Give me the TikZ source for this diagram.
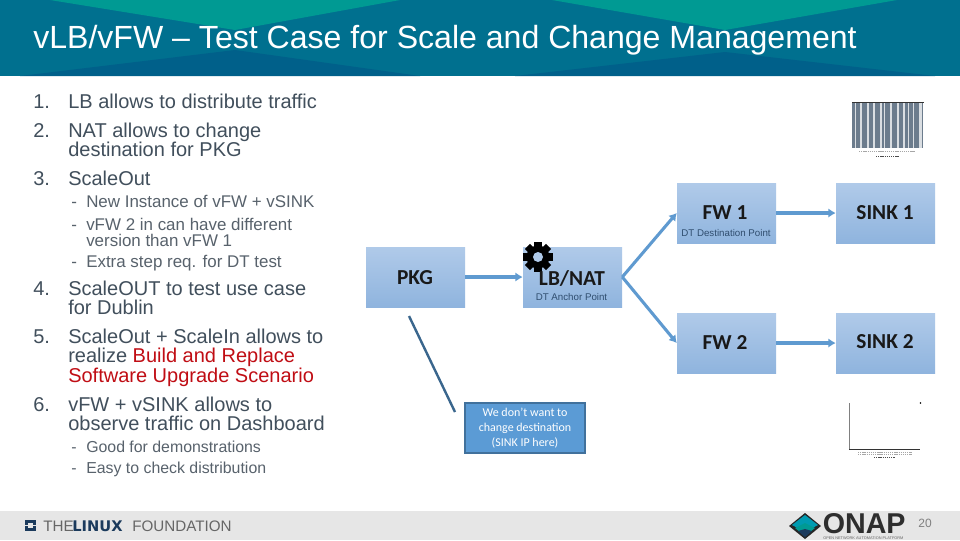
\documentclass[tikz,border=0pt]{standalone}
\usepackage{fontspec}
\setmainfont{Liberation Sans}
\newfontfamily\boxfont{Carlito}
\newfontfamily\logofont{DejaVu Sans}
\usetikzlibrary{arrows.meta}
\definecolor{hdbase}{HTML}{00708F}
\definecolor{hdteal}{HTML}{009A93}
\definecolor{hddark}{HTML}{00608A}
\definecolor{bodytxt}{HTML}{414F5C}
\definecolor{subtxt}{HTML}{58626C}
\definecolor{redtxt}{HTML}{C00D14}
\definecolor{boxtop}{HTML}{B0CAE9}
\definecolor{boxbot}{HTML}{8FB4DE}
\definecolor{arrowc}{HTML}{5F9AD0}
\definecolor{notefill}{HTML}{5B9BD5}
\definecolor{noteedge}{HTML}{41719C}
\definecolor{footg}{HTML}{E6E6E6}
\definecolor{subbox}{HTML}{2F4D6E}
\definecolor{barc}{HTML}{6C7C8D}
\definecolor{navy}{HTML}{1B3A5C}
\tikzset{
  x=0.75pt,y=-0.75pt,
  mainline/.style={anchor=base west,inner sep=0,text=bodytxt,font=\fontsize{15pt}{18pt}\selectfont},
  subline/.style={anchor=base west,inner sep=0,text=subtxt,font=\fontsize{12.7pt}{15pt}\selectfont},
  sublinesmall/.style={anchor=base west,inner sep=0,text=subtxt,font=\fontsize{11.9pt}{15pt}\selectfont},
  flowbox/.style={rectangle,minimum width=74.25pt,minimum height=45pt,inner sep=0,top color=boxtop,bottom color=boxbot,draw=none},
  boxlabel/.style={inner sep=0,text=black!90,font=\boxfont\bfseries\fontsize{16pt}{18pt}\selectfont},
  boxsub/.style={inner sep=0,text=subbox,font=\fontsize{7.3pt}{9pt}\selectfont},
  flow/.style={draw=arrowc,line width=3pt,-{Latex[length=5.5pt,width=7pt]}},
  flowthin/.style={draw=arrowc,line width=2.3pt,-{Latex[length=5.5pt,width=7pt]}},
  tinytxt/.style={gray!70,line width=0.5pt,dash pattern=on 1pt off 0.6pt},
}
\begin{document}
\begin{tikzpicture}
\useasboundingbox (0,0) rectangle (960,540);
\fill[white] (0,0) rectangle (960,540);
% header
\fill[hdbase] (0,0) rectangle (960,76);
\fill[hddark] (20,76) -- (235,50) -- (420,76) -- cycle;
\fill[hddark] (515,76) -- (725,52) -- (935,76) -- cycle;
\fill[hdteal] (50,0) -- (235,30) -- (400,0) -- cycle;
\fill[hdteal] (552,0) -- (725,30) -- (897,0) -- cycle;
\node[anchor=base west,inner sep=0,text=white,font=\fontsize{24.05pt}{28pt}\selectfont] (title) at (33,48) {vLB/vFW – Test Case for Scale and Change Management};
% footer
\fill[footg] (0,511) rectangle (960,540);
% list
\node[mainline] (n1) at (33,108) {1.};
\node[mainline] (t1) at (68,108) {LB allows to distribute traffic};
\node[mainline] (n2) at (33,137) {2.};
\node[mainline] (t2a) at (68,137) {NAT allows to change};
\node[mainline] (t2b) at (68,156) {destination for PKG};
\node[mainline] (n3) at (33,185) {3.};
\node[mainline] (t3) at (68,185) {ScaleOut};
\node[subline] (d1) at (71,207.5) {-};
\node[subline] (s1) at (86,207.5) {New Instance of vFW + vSINK};
\node[subline] (d2) at (71,230) {-};
\node[subline] (s2a) at (86,230) {vFW 2 in can have different};
\node[subline] (s2b) at (86,246) {version than vFW 1};
\node[subline] (d3) at (71,267) {-};
\node[subline] (s3) at (86,267) {Extra step req. for DT test};
\node[mainline] (n4) at (33,295) {4.};
\node[mainline] (t4a) at (68,295) {ScaleOUT to test use case};
\node[mainline] (t4b) at (68,314) {for Dublin};
\node[mainline] (n5) at (33,343) {5.};
\node[mainline] (t5a) at (68,343) {ScaleOut + ScaleIn allows to};
\node[mainline] (t5b) at (68,362) {realize \textcolor{redtxt}{Build and Replace}};
\node[mainline,text=redtxt] (t5c) at (68,382) {Software Upgrade Scenario};
\node[mainline] (n6) at (33,411) {6.};
\node[mainline] (t6a) at (68,411) {vFW + vSINK allows to};
\node[mainline] (t6b) at (68,430) {observe traffic on Dashboard};
\node[sublinesmall] (d4) at (71,452) {-};
\node[sublinesmall] (s4) at (86,452) {Good for demonstrations};
\node[sublinesmall] (d5) at (71,473) {-};
\node[sublinesmall] (s5) at (86,473) {Easy to check distribution};
% boxes
\node[flowbox] (pkg) at (415.5,277) {};
\node[flowbox] (lb) at (572.5,277) {};
\node[flowbox] (fw1) at (726.5,213) {};
\node[flowbox] (sink1) at (885.5,213) {};
\node[flowbox] (fw2) at (726.5,343) {};
\node[flowbox] (sink2) at (885.5,343) {};
% gear
\begin{scope}[shift={(538,257)}]
  \foreach \a in {0,45,...,315}{
    \fill[black,rotate=\a] (-3.6,-15) rectangle (3.6,0);
  }
  \fill[black] (0,0) circle[radius=11.5];
  \fill[boxtop] (0,0) circle[radius=5];
\end{scope}
% labels
\node[boxlabel] (pkgl) at (415,278) {PKG};
\node[boxlabel] (lbl) at (572,278) {LB/NAT};
\node[boxsub] (lbs) at (571.5,297) {DT Anchor Point};
\node[boxlabel] (fw1l) at (725,213) {FW 1};
\node[boxsub] (fw1s) at (726,233) {DT Destination Point};
\node[boxlabel] (sink1l) at (885,213) {SINK 1};
\node[boxlabel] (fw2l) at (725,342) {FW 2};
\node[boxlabel] (sink2l) at (885,342) {SINK 2};
% arrows
\draw[flowthin] (pkg.east) -- (lb.west);
\draw[flowthin] (lb.east) -- (fw1.west);
\draw[flowthin] (lb.east) -- (fw2.west);
\draw[flow] (fw1.east) -- (sink1.west);
\draw[flowthin] (fw2.east) -- (sink2.west);
% note
\node[rectangle,draw=noteedge,line width=1.3pt,fill=notefill,minimum width=90pt,minimum height=37.5pt,inner sep=0,align=center,text=white,font=\boxfont\fontsize{9pt}{11pt}\selectfont] (note) at (525,428) {We don’t want to\\change destination\\(SINK IP here)};
\coordinate (la) at (409,316);
\coordinate (lb2) at (455,412);
\draw[noteedge!90!black,line width=1.8pt] (la) -- (lb2);
% barcode picture
\fill[barc] (852,102) rectangle (923,148);
\foreach \xa/\w in {855/1,860/2,867/1.5,873/2,880/1.5,884/1,890/2,897/1.5,903/1.5,908/1,913/1,919/2.5}{
  \fill[white!75!barc] (\xa,103) rectangle ++(\w,45);
}
\draw[black!80,line width=0.7pt] (852,102) -- (924,102);
\draw[tinytxt] (859,151) -- (915,151);
\draw[tinytxt,black!70] (876,156) -- (899,156);
% empty chart picture
\draw[gray,line width=0.6pt] (849.5,403) -- (849.5,449);
\draw[black!80,line width=0.7pt] (849,449) -- (920,449);
\fill[black] (920.5,403) circle[radius=0.8];
\draw[tinytxt] (858,452) -- (912,452);
\draw[tinytxt] (858,454.5) -- (912,454.5);
\draw[tinytxt,black!70] (874,457) -- (895,457);
% linux foundation logo
\fill[navy] (25,520) rectangle (36,531);
\fill[footg] (28,523) rectangle (33,528);
\fill[footg] (25,524.5) rectangle (28,526);
\fill[footg] (33,524.5) rectangle (36,526);
\node[anchor=base west,inner sep=0,text=gray!80!black,font=\fontsize{11.4pt}{13pt}\selectfont] (lfa) at (43,531) {THE};
\node[anchor=base west,inner sep=0,text=navy,font=\logofont\bfseries\fontsize{11pt}{13pt}\selectfont] (lfb) at (72,531) {LINUX};
\node[anchor=base west,inner sep=0,text=gray!80!black,font=\fontsize{11.4pt}{13pt}\selectfont] (lfc) at (132,531) {FOUNDATION};
% onap logo
\fill[black!85] (805,513) -- (821,526) -- (805,539) -- (789,526) -- cycle;
\fill[hdbase!70!cyan] (805,515) -- (818,525) -- (805,532) -- (792,525) -- cycle;
\fill[hdteal] (805,523) -- (815,528) -- (805,536) -- (795,528) -- cycle;
\fill[navy] (805,529) -- (812,531) -- (805,537) -- (798,531) -- cycle;
\node[anchor=base west,inner sep=0,text=black!82,font=\bfseries\fontsize{21.5pt}{24pt}\selectfont] (onap) at (822.5,533.5) {ONAP};
\node[anchor=base west,inner sep=0,text=gray!80!black,font=\fontsize{2.9pt}{4pt}\selectfont] (onaps) at (823,539.3) {OPEN NETWORK AUTOMATION PLATFORM};
\node[inner sep=0,text=gray,font=\fontsize{9pt}{11pt}\selectfont] (pageno) at (925,523) {20};
\end{tikzpicture}
\end{document}
